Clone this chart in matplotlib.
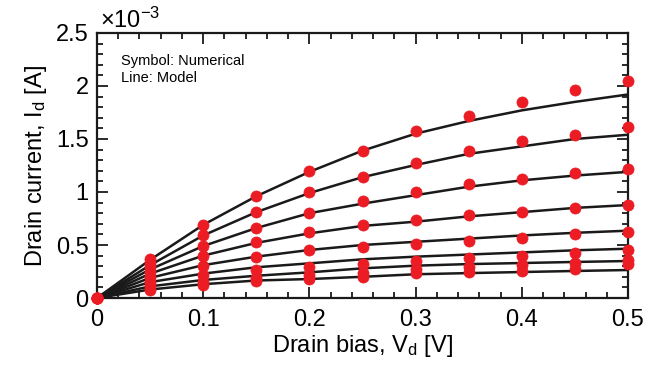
import matplotlib
matplotlib.use("Agg")
import matplotlib.pyplot as plt
from matplotlib.ticker import MultipleLocator

plt.rcParams['font.family'] = ['Liberation Sans', 'DejaVu Sans']
plt.rcParams['mathtext.fontset'] = 'custom'
plt.rcParams['mathtext.rm'] = 'Liberation Sans'
plt.rcParams['mathtext.it'] = 'Liberation Sans'

# Drain bias [V]
vd = [0, 0.05, 0.1, 0.15, 0.2, 0.25, 0.3, 0.35, 0.4, 0.45, 0.5]

# Numerical results (symbols), drain current in units of 1e-3 A
num_1 = [0, 0.37, 0.69, 0.96, 1.20, 1.39, 1.575, 1.72, 1.85, 1.96, 2.05]
num_2 = [0, 0.33, 0.59, 0.81, 1.00, 1.145, 1.276, 1.39, 1.48, 1.54, 1.61]
num_3 = [0, 0.29, 0.49, 0.664, 0.80, 0.915, 0.997, 1.08, 1.12, 1.18, 1.22]
num_4 = [0, 0.25, 0.40, 0.525, 0.62, 0.689, 0.736, 0.783, 0.814, 0.852, 0.877]
num_5 = [0, 0.20, 0.305, 0.387, 0.453, 0.478, 0.509, 0.54, 0.563, 0.60, 0.626]
num_6 = [0, 0.15, 0.217, 0.264, 0.296, 0.321, 0.349, 0.374, 0.40, 0.427, 0.453]
num_7 = [0, 0.11, 0.15, 0.19, 0.22, 0.24, 0.27, 0.29, 0.31, 0.33, 0.36]
num_8 = [0, 0.08, 0.12, 0.16, 0.18, 0.20, 0.235, 0.245, 0.255, 0.27, 0.32]

# Model results (lines), drain current in units of 1e-3 A
mod_1 = [0, 0.36, 0.69, 0.96, 1.19, 1.39, 1.55, 1.67, 1.77, 1.85, 1.92]
mod_2 = [0, 0.31, 0.59, 0.81, 0.99, 1.14, 1.255, 1.36, 1.43, 1.50, 1.54]
mod_3 = [0, 0.27, 0.49, 0.66, 0.80, 0.89, 0.97, 1.05, 1.11, 1.155, 1.19]
mod_4 = [0, 0.23, 0.40, 0.52, 0.61, 0.68, 0.72, 0.77, 0.81, 0.85, 0.877]
mod_5 = [0, 0.19, 0.31, 0.39, 0.453, 0.50, 0.53, 0.56, 0.59, 0.615, 0.635]
mod_6 = [0, 0.15, 0.23, 0.29, 0.327, 0.365, 0.39, 0.41, 0.43, 0.45, 0.465]
mod_7 = [0, 0.11, 0.17, 0.21, 0.242, 0.28, 0.305, 0.32, 0.33, 0.34, 0.349]
mod_8 = [0, 0.08, 0.13, 0.165, 0.179, 0.20, 0.224, 0.235, 0.245, 0.255, 0.264]

num_series = [num_1, num_2, num_3, num_4, num_5, num_6, num_7, num_8]
mod_series = [mod_1, mod_2, mod_3, mod_4, mod_5, mod_6, mod_7, mod_8]

x_ticks = [0, 0.1, 0.2, 0.3, 0.4, 0.5]
x_ticklabels = ['0', '0.1', '0.2', '0.3', '0.4', '0.5']
y_ticks = [0, 0.5, 1, 1.5, 2, 2.5]
y_ticklabels = ['0', '0.5', '1', '1.5', '2', '2.5']

fig = plt.figure(figsize=(6.6, 3.69), dpi=100)
ax = fig.add_axes([0.147, 0.1924, 0.8045, 0.7182])

for m in mod_series:
    ax.plot(vd, m, color='#1a1a1a', lw=1.8, zorder=2)
for n in num_series:
    ax.plot(vd, n, ls='none', marker='o', ms=8, mfc='#ec1c24',
            mec='#ec1c24', mew=0.5, zorder=3, clip_on=False)

ax.set_xlim(0, 0.5)
ax.set_ylim(0, 2.5)
ax.set_xticks(x_ticks)
ax.set_xticklabels(x_ticklabels)
ax.set_yticks(y_ticks)
ax.set_yticklabels(y_ticklabels)
ax.xaxis.set_minor_locator(MultipleLocator(0.02))
ax.yaxis.set_minor_locator(MultipleLocator(0.1))
ax.tick_params(which='both', direction='in', top=True, right=True,
               width=1.3, color='#1a1a1a')
ax.tick_params(which='major', length=8, labelsize=17)
ax.tick_params(axis='x', which='major', pad=8)
ax.tick_params(axis='y', which='major', pad=6)
ax.tick_params(which='minor', length=4.5)
for s in ax.spines.values():
    s.set_linewidth(1.6)
    s.set_color('#1a1a1a')

ax.set_xlabel(r'Drain bias, V$_\mathregular{d}$ [V]', fontsize=17, labelpad=1)
ax.set_ylabel(r'Drain current, I$_\mathregular{d}$ [A]', fontsize=17, labelpad=5)

ax.text(0.005, 1.0, r'$\times$10$^{\mathregular{-3}}$', transform=ax.transAxes,
        fontsize=17, ha='left', va='bottom')

ax.text(0.045, 0.895, 'Symbol: Numerical', transform=ax.transAxes,
        fontsize=10.5, ha='left', va='center')
ax.text(0.045, 0.83, 'Line: Model', transform=ax.transAxes,
        fontsize=10.5, ha='left', va='center')

fig.savefig('out.png', dpi=100)
